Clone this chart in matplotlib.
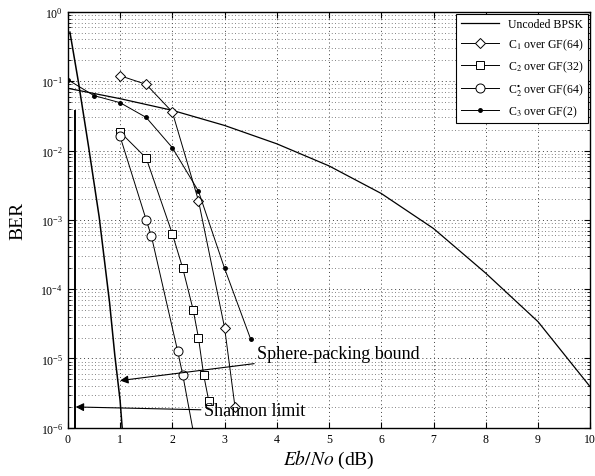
"""BER versus Eb/No for several LDPC-type codes, with bounds."""

import matplotlib
matplotlib.use("Agg")
import matplotlib.pyplot as plt
import numpy as np
from matplotlib.ticker import LogLocator, NullFormatter

plt.rcParams["font.family"] = ["Liberation Serif", "DejaVu Serif"]
plt.rcParams["mathtext.fontset"] = "stix"

# Uncoded BPSK
ebno_unc = [0, 1, 2, 3, 4, 5, 6, 7, 8, 9, 10]
ber_unc = [7.9e-2, 5.6e-2, 3.8e-2, 2.3e-2, 1.25e-2, 6.0e-3, 2.4e-3,
           7.5e-4, 1.7e-4, 3.4e-5, 3.9e-6]

# C1 over GF(64)
ebno_c1 = [1.0, 1.5, 2.0, 2.5, 3.0, 3.2]
ber_c1 = [1.2e-1, 9.0e-2, 3.6e-2, 1.9e-3, 2.8e-5, 2.0e-6]

# C2 over GF(32)
ebno_c2 = [1.0, 1.5, 2.0, 2.2, 2.4, 2.5, 2.6, 2.7]
ber_c2 = [1.85e-2, 7.8e-3, 6.3e-4, 2.0e-4, 5.0e-5, 2.0e-5, 5.8e-6, 2.4e-6]

# C2* over GF(64)
ebno_c2s = [1.0, 1.5, 1.6, 2.1, 2.2, 2.5]
ber_c2s = [1.6e-2, 1.0e-3, 5.8e-4, 1.3e-5, 5.8e-6, 3.5e-7]

# C3 over GF(2)
ebno_c3 = [0.0, 0.5, 1.0, 1.5, 2.0, 2.5, 3.0, 3.5]
ber_c3 = [1.05e-1, 6.2e-2, 4.9e-2, 3.0e-2, 1.1e-2, 2.6e-3, 2.0e-4, 1.9e-5]

# Sphere-packing bound
ebno_sp = [0.04, 0.2, 0.4, 0.6, 0.8, 0.9, 1.0, 1.05]
ber_sp = [5.1e-1, 1.0e-1, 1.1e-2, 1.1e-3, 6.3e-5, 1.1e-5, 2.5e-6, 8.0e-7]

# Shannon limit
ebno_sh = [0.14, 0.14]
ber_sh = [3.7e-2, 1e-6]

fig = plt.figure(figsize=(5.95, 4.77), dpi=100)
ax = fig.add_axes([0.114, 0.101, 0.878, 0.872])

lw = 0.9
ax.semilogy(ebno_unc, ber_unc, "k-", lw=lw, label="Uncoded BPSK")
ax.semilogy(ebno_c1, ber_c1, "k-", lw=0.7, marker="D", ms=5.5,
            mfc="white", mew=0.7, label="C$_1$ over GF(64)")
ax.semilogy(ebno_c2, ber_c2, "k-", lw=0.7, marker="s", ms=5.5,
            mfc="white", mew=0.7, label="C$_2$ over GF(32)")
ax.semilogy(ebno_c2s, ber_c2s, "k-", lw=0.7, marker="o", ms=6.5,
            mfc="white", mew=0.7, label="C$_2^{\\bullet}$ over GF(64)")
ax.semilogy(ebno_c3, ber_c3, "k-", lw=0.7, marker=".", ms=5,
            label="C$_3$ over GF(2)")
ax.semilogy(ebno_sp, ber_sp, "k-", lw=1.1)
ax.semilogy(ebno_sh, ber_sh, "k-", lw=1.4)

ax.set_xlim(0, 10)
ax.set_ylim(1e-6, 1)
ax.set_xticks(range(11))
ax.yaxis.set_major_locator(LogLocator(base=10, numticks=10))
ax.yaxis.set_minor_locator(LogLocator(base=10, subs=np.arange(2, 10), numticks=20))
ax.yaxis.set_minor_formatter(NullFormatter())
ax.tick_params(which="both", direction="in", top=True, right=True,
               labelsize=8.5)
ax.tick_params(which="major", length=4)
ax.tick_params(which="minor", length=2)
ax.xaxis.get_offset_text().set_visible(False)
ax.yaxis.get_offset_text().set_visible(False)

ax.grid(True, which="major", ls=(0, (1, 3)), color="0.25", lw=0.7)
ax.grid(True, which="minor", axis="y", ls=(0, (1, 3)), color="0.35", lw=0.6)

for s in ax.spines.values():
    s.set_linewidth(1.0)

ax.set_xlabel("$\\mathit{Eb/No}$ (dB)", fontsize=14, labelpad=2)
ax.set_ylabel("BER", fontsize=14, labelpad=10)

ax.annotate("Sphere-packing bound", xy=(1.0, 4.8e-6), xytext=(3.62, 1.2e-5),
            fontsize=13, va="center", ha="left",
            arrowprops=dict(arrowstyle="-|>", color="k", lw=0.8,
                            shrinkA=0, shrinkB=0, mutation_scale=12))
ax.annotate("Shannon limit", xy=(0.15, 2.0e-6), xytext=(2.6, 1.75e-6),
            fontsize=13, va="center", ha="left",
            arrowprops=dict(arrowstyle="-|>", color="k", lw=0.8,
                            shrinkA=0, shrinkB=0, mutation_scale=12))

leg = ax.legend(loc="upper right", fontsize=8.5, borderaxespad=0.15,
                fancybox=False, edgecolor="k", framealpha=1,
                handlelength=3.2, labelspacing=0.55)
leg.get_frame().set_linewidth(0.8)

fig.savefig("out.png", dpi=100)
